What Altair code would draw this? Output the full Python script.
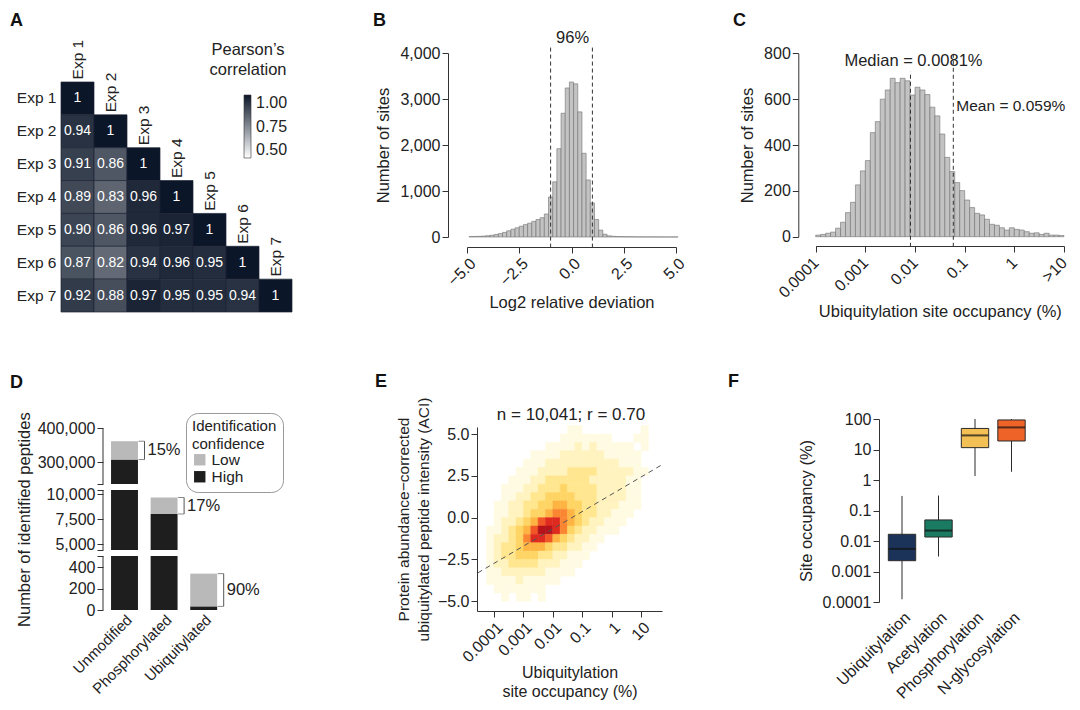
import altair as alt
import numpy as np
import pandas as pd

FONT = "Liberation Sans"
INK = "#222222"
AXC = "#333333"
W, H = 1064, 694


def px(v):
    return v - 8


def py(v):
    return v - 8


# ------------------------------------------------------------------ data
exps = ["Exp 1", "Exp 2", "Exp 3", "Exp 4", "Exp 5", "Exp 6", "Exp 7"]
corr_rows = [
    [1.00],
    [0.94, 1.00],
    [0.91, 0.86, 1.00],
    [0.89, 0.83, 0.96, 1.00],
    [0.90, 0.86, 0.96, 0.97, 1.00],
    [0.87, 0.82, 0.94, 0.96, 0.95, 1.00],
    [0.92, 0.88, 0.97, 0.95, 0.95, 0.94, 1.00],
]

# B: log2 relative deviation histogram (bin centres, width 0.2)
b_centers = [round(-4.8 + 0.2 * i, 1) for i in range(50)]
b_counts = [10, 12, 15, 20, 28, 38, 55, 75, 100, 135,
            170, 200, 235, 270, 300, 340, 380, 420, 500, 870,
            1200, 1920, 2690, 3240, 3370, 3330, 2720, 1820, 1240, 740,
            380, 150, 60, 25, 15, 10, 8, 6, 5, 4,
            3, 3, 2, 2, 2, 2, 1, 1, 1, 1]
b_limits = [-1.0, 1.0]

# C: site occupancy histogram (log10 bins of 0.1 from 0.0001 %)
c_log_start = [round(-4 + 0.1 * i, 1) for i in range(50)]
c_counts = [7, 10, 15, 20, 37, 63, 105, 150, 226, 287,
            332, 454, 502, 600, 640, 691, 672, 691, 680, 618,
            652, 640, 620, 565, 527, 448, 346, 284, 236, 201,
            160, 127, 102, 95, 76, 54, 50, 39, 29, 39,
            32, 29, 22, 15, 17, 10, 15, 7, 7, 5]
c_median = 0.0081
c_mean = 0.059

# D: identified peptides
d_cats = ["Unmodified", "Phosphorylated", "Ubiquitylated"]
d_high = [308000, 8000, 34]
d_low = [54000, 1650, 306]
d_pct = ["15%", "17%", "90%"]
d_segments = [(0, 505), (4400, 10400), (236000, 400000)]
d_ticks = [0, 200, 400, 5000, 7500, 10000, 300000, 400000]

# E: density of 10,041 sites, levels 0-9 read on a grid
# columns: log10 occupancy from -4.5 in steps of 0.25 ; rows: ACI from 5.5 down in steps of 0.5
e_rows = [
    "000000000000110000000010",
    "000000000001111111000110",
    "000000000111121211111010",
    "000000011112222221111100",
    "000000111222222222211100",
    "000001112222333322222110",
    "000011122333333222221100",
    "000111223334333322221100",
    "000112233444433322221100",
    "001122334455443322211100",
    "001122344566543322111000",
    "001223457886543221110000",
    "011234579986432211100000",
    "012234688754322110000000",
    "012334555433221100000000",
    "012334443322111000000000",
    "012233332221110000000000",
    "011222222111100000000000",
    "011112111110000000000000",
    "001111111000000000000000",
    "000101101000000000000000",
    "000000000000000000000000",
]
e_fit_x = [10 ** -4.55, 10 ** 1.70]
e_fit_y = [-3.3, 3.15]
e_colors = ["#fffbe3", "#fff3bf", "#ffe68f", "#fed464", "#fdb443",
            "#fb8632", "#f15627", "#de2a1f", "#b5121b"]

# F: site occupancy boxplots
f_cats = ["Ubiquitylation", "Acetylation", "Phosphorylation", "N-glycosylation"]
f_lo = [0.000123, 0.0031, 1.35, 1.86]
f_q1 = [0.00226, 0.0135, 11.5, 19.0]
f_med = [0.0055, 0.022, 29.0, 53.0]
f_q3 = [0.0166, 0.049, 49.0, 93.0]
f_hi = [0.30, 0.31, 100.0, 100.0]
f_colors = ["#1b3358", "#1a7a62", "#f2c055", "#ee6428"]

HIST_FILL = "#c3c3c3"
HIST_STROKE = "#707070"
layers = []

# ------------------------------------------------------------------ panel A
rows = []
for i, r in enumerate(corr_rows):
    for j, v in enumerate(r):
        rows.append({"row": exps[i], "col": exps[j], "r": v,
                     "lab": "1" if v == 1 else f"{v:.2f}"})
df_a = pd.DataFrame(rows)
df_a_diag = df_a[df_a["row"] == df_a["col"]]

a_xs = alt.Scale(domain=exps, range=[px(61), px(292)], paddingInner=0, paddingOuter=0)
a_ys = alt.Scale(domain=exps, range=[py(82), py(312)], paddingInner=0, paddingOuter=0)
a_cs = alt.Scale(domain=[0.5, 1.0], range=["#ffffff", "#0b1628"], interpolate="rgb")
a_yaxis = alt.Axis(orient="left", offset=-px(61), domain=False, ticks=False,
                   labelPadding=5, labelFontSize=15.5, title=None, zindex=1)

layers.append(alt.Chart(df_a).mark_rect(stroke="#1d2433", strokeWidth=0.7).encode(
    x=alt.X("col:N", scale=a_xs, axis=None),
    y=alt.Y("row:N", scale=a_ys, axis=a_yaxis),
    color=alt.Color("r:Q", scale=a_cs, legend=alt.Legend(
        orient="none", legendX=px(244), legendY=py(95), title=None,
        direction="vertical", gradientLength=63, gradientThickness=7,
        values=[0.5, 0.75, 1.0], format=".2f", labelFontSize=16, labelOffset=5,
        gradientStrokeColor="#333", gradientStrokeWidth=0.6)),
))
layers.append(alt.Chart(df_a).mark_text(color="white", fontSize=14, font=FONT).encode(
    x=alt.X("col:N", scale=a_xs, axis=None),
    y=alt.Y("row:N", scale=a_ys, axis=None),
    text="lab:N",
))
layers.append(alt.Chart(df_a_diag).mark_text(
    angle=270, align="left", baseline="middle", dx=19, fontSize=15.5, font=FONT, color=INK
).encode(
    x=alt.X("col:N", scale=a_xs, axis=None),
    y=alt.Y("row:N", scale=a_ys, axis=None),
    text="col:N",
))
layers.append(alt.Chart(pd.DataFrame({"t": ["Pearson\u2019s\ncorrelation"]})).mark_text(
    lineBreak="\n", align="center", baseline="top", fontSize=16.5, lineHeight=20,
    font=FONT, color=INK
).encode(x=alt.value(px(248)), y=alt.value(py(42)), text="t:N"))

# ------------------------------------------------------------------ panel B
df_b = pd.DataFrame({"mid": b_centers, "n": b_counts})
df_b["lo"] = df_b["mid"] - 0.1
df_b["hi"] = df_b["mid"] + 0.1
df_b["base"] = 0
b_xs = alt.Scale(domain=[-5, 5], range=[px(467), px(676)], nice=False, zero=False)
b_ys = alt.Scale(domain=[0, 4000], range=[py(237), py(53)], nice=False, zero=False)
b_xaxis = alt.Axis(orient="bottom", offset=py(247) - H, values=[-5, -2.5, 0, 2.5, 5],
                   format=".1f", labelAngle=-45, labelAlign="right", labelBaseline="top",
                   title="Log2 relative deviation", titlePadding=6, zindex=1)
b_yaxis = alt.Axis(orient="left", offset=-px(448), values=[0, 1000, 2000, 3000, 4000],
                   labelExpr="format(datum.value, ',')", title="Number of sites",
                   titlePadding=8, zindex=1)
layers.append(alt.Chart(df_b).mark_rect(fill=HIST_FILL, stroke=HIST_STROKE, strokeWidth=0.6).encode(
    x=alt.X("lo:Q", scale=b_xs, axis=b_xaxis), x2="hi:Q",
    y=alt.Y("n:Q", scale=b_ys, axis=b_yaxis), y2="base:Q",
))
df_b_lines = pd.DataFrame({"x": b_limits, "ya": [-230, -230], "yb": [4180, 4180]})
layers.append(alt.Chart(df_b_lines).mark_rule(color="#333", strokeDash=[4, 3], strokeWidth=1).encode(
    x=alt.X("x:Q", scale=b_xs, axis=None),
    y=alt.Y("ya:Q", scale=b_ys, axis=None), y2="yb:Q",
))
layers.append(alt.Chart(pd.DataFrame({"x": [0.05], "y": [4330], "t": ["96%"]})).mark_text(
    fontSize=16.5, font=FONT, color=INK, baseline="middle"
).encode(x=alt.X("x:Q", scale=b_xs, axis=None), y=alt.Y("y:Q", scale=b_ys, axis=None), text="t:N"))

# ------------------------------------------------------------------ panel C
df_c = pd.DataFrame({"s": c_log_start, "n": c_counts})
df_c["lo"] = 10 ** df_c["s"]
df_c["hi"] = 10 ** (df_c["s"] + 0.1)
df_c["base"] = 0
c_xs = alt.Scale(type="log", domain=[1e-4, 10], range=[px(815.7), px(1064)], nice=False)
c_ys = alt.Scale(domain=[0, 800], range=[py(236.7), py(53.3)], nice=False, zero=False)
c_xaxis = alt.Axis(orient="bottom", offset=py(246) - H,
                   values=[1e-4, 1e-3, 1e-2, 1e-1, 1, 10],
                   labelExpr="datum.value >= 10 ? '>10' : format(datum.value, '~g')",
                   labelAngle=-45, labelAlign="right", labelBaseline="middle", labelPadding=8,
                   title="Ubiquitylation site occupancy (%)", titlePadding=3, zindex=1)
c_yaxis = alt.Axis(orient="left", offset=-px(798.3), values=[0, 200, 400, 600, 800],
                   title="Number of sites", titlePadding=8, zindex=1)
layers.append(alt.Chart(df_c).mark_rect(fill=HIST_FILL, stroke=HIST_STROKE, strokeWidth=0.6).encode(
    x=alt.X("lo:Q", scale=c_xs, axis=c_xaxis), x2="hi:Q",
    y=alt.Y("n:Q", scale=c_ys, axis=c_yaxis), y2="base:Q",
))
df_c_lines = pd.DataFrame({"x": [c_median, c_mean], "ya": [-44, -44], "yb": [720, 807]})
layers.append(alt.Chart(df_c_lines).mark_rule(color="#333", strokeDash=[4, 3], strokeWidth=1).encode(
    x=alt.X("x:Q", scale=c_xs, axis=None),
    y=alt.Y("ya:Q", scale=c_ys, axis=None), y2="yb:Q",
))
layers.append(alt.Chart(pd.DataFrame({"x": [c_median], "y": [767], "t": ["Median = 0.0081%"]})).mark_text(
    fontSize=16.5, font=FONT, color=INK, align="center", baseline="middle", dx=3
).encode(x=alt.X("x:Q", scale=c_xs, axis=None), y=alt.Y("y:Q", scale=c_ys, axis=None), text="t:N"))
layers.append(alt.Chart(pd.DataFrame({"x": [c_mean], "y": [568], "t": ["Mean = 0.059%"]})).mark_text(
    fontSize=15.5, font=FONT, color=INK, align="left", baseline="middle", dx=3
).encode(x=alt.X("x:Q", scale=c_xs, axis=None), y=alt.Y("y:Q", scale=c_ys, axis=None), text="t:N"))

# ------------------------------------------------------------------ panel D
pieces = []
for cat, hi_v, lo_v in zip(d_cats, d_high, d_low):
    for conf, s, e in (("High", 0, hi_v), ("Low", hi_v, hi_v + lo_v)):
        for a, b in d_segments:
            s2, e2 = max(s, a), min(e, b)
            if s2 < e2:
                pieces.append({"cat": cat, "conf": conf, "y0": s2, "y1": e2})
df_d = pd.DataFrame(pieces)
df_d_br = pd.DataFrame({"cat": d_cats, "hi": d_high,
                        "tot": [h + l for h, l in zip(d_high, d_low)], "pct": d_pct})
df_d_br["mid"] = (df_d_br["hi"] + df_d_br["tot"]) / 2
df_d_seg = pd.DataFrame({"lo": [s[0] for s in d_segments], "hi": [s[1] for s in d_segments]})

d_xs = alt.Scale(domain=d_cats, range=[px(104.7), px(223.5)], paddingInner=0.32, paddingOuter=0.16)
d_ys = alt.Scale(type="linear", domain=[0, 505, 4400, 10400, 236000, 400000],
                 range=[py(610), py(556), py(550), py(490), py(484), py(428.3)],
                 nice=False, zero=False)
d_ends = [s for seg in d_segments for s in seg if s not in d_ticks]
d_xaxis = alt.Axis(orient="bottom", offset=py(609) - H, domain=False, ticks=False,
                   labelAngle=-45, labelAlign="right", labelBaseline="top",
                   labelPadding=3, labelFontSize=15, title=None, zindex=1)
d_yaxis = alt.Axis(orient="left", offset=-px(103), domain=False,
                   values=sorted(d_ticks + d_ends),
                   labelExpr="indexof(%s, datum.value) >= 0 ? '' : format(datum.value, ',')" % str(d_ends),
                   title="Number of identified peptides", titlePadding=5, zindex=1)
layers.append(alt.Chart(df_d).mark_bar().encode(
    x=alt.X("cat:N", scale=d_xs, axis=d_xaxis, sort=d_cats),
    y=alt.Y("y0:Q", scale=d_ys, axis=d_yaxis), y2="y1:Q",
    color=alt.Color("conf:N", scale=alt.Scale(domain=["Low", "High"], range=["#b9b9b9", "#1e1e1e"]),
                    legend=alt.Legend(orient="none", legendX=px(186), legendY=py(413),
                                      title=["Identification", "confidence"],
                                      titleFontSize=15, titleFontWeight="normal",
                                      titleLineHeight=18, titlePadding=0,
                                      labelFontSize=15.5, symbolType="square", symbolSize=130,
                                      symbolStrokeWidth=0, padding=6, cornerRadius=12,
                                      strokeColor="#999", fillColor="white",
                                      rowPadding=0, labelOffset=4)),
))
layers.append(alt.Chart(df_d_seg).mark_rule(color=AXC, strokeWidth=1).encode(
    x=alt.value(px(103)),
    y=alt.Y("lo:Q", scale=d_ys, axis=None), y2="hi:Q",
))
layers.append(alt.Chart(df_d_br).mark_rule(xOffset=20, color="#555", strokeWidth=1).encode(
    x=alt.X("cat:N", scale=d_xs, axis=None),
    y=alt.Y("hi:Q", scale=d_ys, axis=None), y2="tot:Q",
))
for fld in ("hi", "tot"):
    layers.append(alt.Chart(df_d_br).mark_tick(xOffset=17, size=6, thickness=1, color="#555",
                                               orient="horizontal").encode(
        x=alt.X("cat:N", scale=d_xs, axis=None),
        y=alt.Y(f"{fld}:Q", scale=d_ys, axis=None),
    ))
layers.append(alt.Chart(df_d_br).mark_text(dx=23, align="left", baseline="middle",
                                           fontSize=16.5, font=FONT, color=INK).encode(
    x=alt.X("cat:N", scale=d_xs, axis=None),
    y=alt.Y("mid:Q", scale=d_ys, axis=None),
    text="pct:N",
))

# ------------------------------------------------------------------ panel E
cells = []
for r, line in enumerate(e_rows):
    ytop = 5.5 - 0.5 * r
    for c, ch in enumerate(line):
        lv = int(ch)
        if lv > 0:
            lx = -4.5 + 0.25 * c
            cells.append({"x0": 10 ** lx, "x1": 10 ** (lx + 0.25),
                          "y0": ytop - 0.5, "y1": ytop, "lvl": lv})
df_e = pd.DataFrame(cells)
e_xs = alt.Scale(type="log", domain=[10 ** -4.578, 10 ** 1.714], range=[px(477), px(662)], nice=False)
e_ys = alt.Scale(domain=[-5.58, 5.42], range=[py(611), py(427)], nice=False, zero=False)
e_fs = alt.Scale(domain=list(range(1, 10)), range=e_colors)
e_xaxis = alt.Axis(orient="bottom", offset=py(611) - H,
                   values=[1e-4, 1e-3, 1e-2, 1e-1, 1, 10],
                   labelExpr="format(datum.value, '~g')",
                   labelAngle=-45, labelAlign="right", labelBaseline="top",
                   title=["Ubiquitylation", "site occupancy (%)"], titlePadding=0,
                   titleFontSize=16, titleLineHeight=19, zindex=1)
e_yaxis = alt.Axis(orient="left", offset=-px(477), values=[-5, -2.5, 0, 2.5, 5], format=".1f",
                   title=["Protein abundance\u2212corrected", "ubiquitylated peptide intensity (ACI)"],
                   titlePadding=6, titleFontSize=15.5, titleLineHeight=20, zindex=1)
layers.append(alt.Chart(df_e).mark_rect(strokeWidth=0.5).encode(
    x=alt.X("x0:Q", scale=e_xs, axis=e_xaxis), x2="x1:Q",
    y=alt.Y("y0:Q", scale=e_ys, axis=e_yaxis), y2="y1:Q",
    fill=alt.Fill("lvl:O", scale=e_fs, legend=None),
    stroke=alt.Stroke("lvl:O", scale=e_fs, legend=None),
))
layers.append(alt.Chart(pd.DataFrame({"x": e_fit_x, "y": e_fit_y})).mark_line(
    color="#555", strokeDash=[5, 4], strokeWidth=1
).encode(x=alt.X("x:Q", scale=e_xs, axis=None), y=alt.Y("y:Q", scale=e_ys, axis=None)))
layers.append(alt.Chart(pd.DataFrame({"t": ["n = 10,041; r = 0.70"]})).mark_text(
    fontSize=17, font=FONT, color=INK, align="center", baseline="middle"
).encode(x=alt.value(px(571)), y=alt.value(py(415)), text="t:N"))

# ------------------------------------------------------------------ panel F
df_f = pd.DataFrame({"cat": f_cats, "lo": f_lo, "q1": f_q1, "med": f_med, "q3": f_q3, "hi": f_hi})
f_xs = alt.Scale(domain=f_cats, range=[px(883.75), px(1029.75)], paddingInner=0.25, paddingOuter=0.125)
f_ys = alt.Scale(type="log", domain=[1e-4, 100], range=[py(602), py(419)], nice=False)
f_cs = alt.Scale(domain=f_cats, range=f_colors)
f_xaxis = alt.Axis(orient="bottom", offset=py(605) - H, domain=False, ticks=False,
                   labelAngle=-45, labelAlign="right", labelBaseline="top",
                   labelPadding=4, title=None, zindex=1)
f_yaxis = alt.Axis(orient="left", offset=-px(879), values=[1e-4, 1e-3, 1e-2, 1e-1, 1, 10, 100],
                   labelExpr="format(datum.value, '~g')",
                   title="Site occupancy (%)", titlePadding=8, zindex=1)
layers.append(alt.Chart(df_f).mark_rule(color="#2a2a2a", strokeWidth=1).encode(
    x=alt.X("cat:N", scale=f_xs, axis=f_xaxis, sort=f_cats),
    y=alt.Y("lo:Q", scale=f_ys, axis=f_yaxis), y2="hi:Q",
))
layers.append(alt.Chart(df_f).mark_bar(stroke="#2a2a2a", strokeWidth=1).encode(
    x=alt.X("cat:N", scale=f_xs, axis=None, sort=f_cats),
    y=alt.Y("q1:Q", scale=f_ys, axis=None), y2="q3:Q",
    color=alt.Color("cat:N", scale=f_cs, legend=None),
))
layers.append(alt.Chart(df_f).mark_tick(color="#111", thickness=2, size=27, orient="horizontal").encode(
    x=alt.X("cat:N", scale=f_xs, axis=None, sort=f_cats),
    y=alt.Y("med:Q", scale=f_ys, axis=None),
))

# ------------------------------------------------------------------ panel letters
for L, lx, ly in (("A", 10, 26), ("B", 373, 26), ("C", 733, 26),
                  ("D", 10, 388), ("E", 375, 387), ("F", 728, 387)):
    layers.append(
        alt.Chart(pd.DataFrame({"t": [L]})).mark_text(
            fontSize=18, fontWeight="bold", font=FONT, color="#111",
            align="left", baseline="alphabetic"
        ).encode(x=alt.value(px(lx)), y=alt.value(py(ly)), text="t:N")
    )

chart = alt.layer(*layers).resolve_scale(
    x="independent", y="independent", color="independent", fill="independent", stroke="independent"
).properties(
    width=W, height=H, autosize=alt.AutoSizeParams(type="none"), padding=0
).configure_view(stroke=None).configure_axis(
    labelFont=FONT, titleFont=FONT, labelFontSize=16, titleFontSize=16.5,
    labelColor=INK, titleColor=INK, titleFontWeight="normal",
    domainColor=AXC, tickColor=AXC, tickSize=6, grid=False,
    labelOverlap=False, labelFlush=False, labelBound=False
).configure_legend(
    labelFont=FONT, titleFont=FONT, labelColor=INK, titleColor=INK
)

chart.save("out.html", embed_options={"renderer": "svg", "actions": False})
